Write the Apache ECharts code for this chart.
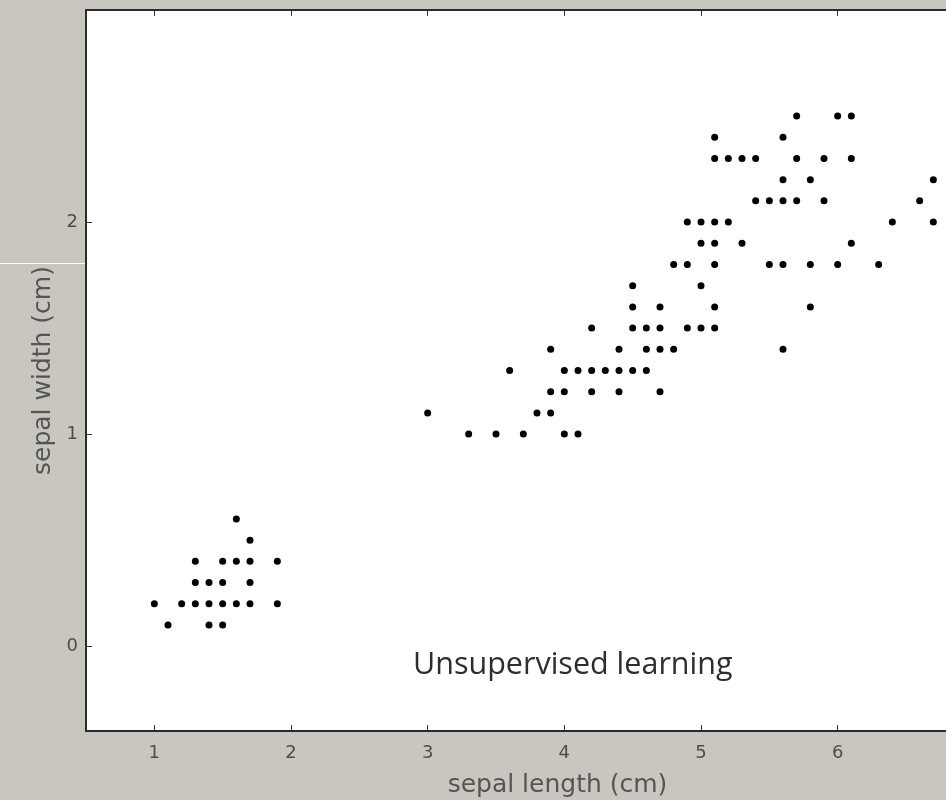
<!DOCTYPE html>
<html>
<head>
<meta charset="utf-8">
<script src="https://cdn.jsdelivr.net/npm/echarts@6/dist/echarts.min.js"></script>
<style>
  html, body { margin: 0; padding: 0; background: #c9c6bf; }
  #chart { width: 946px; height: 800px; }
</style>
</head>
<body>
<div id="chart"></div>
<script>
// 坐标轴刻度
const xTicks = [1, 2, 3, 4, 5, 6, 7];
const yTicks = [0, 1, 2];

// 每一行 y 值对应的 x 值（从图上读出，重复点只保留一个）
const rowY = [0.1, 0.2, 0.3, 0.4, 0.5, 0.6,
  1.0, 1.1, 1.2, 1.3, 1.4, 1.5, 1.6, 1.7, 1.8, 1.9, 2.0, 2.1, 2.2, 2.3, 2.4, 2.5];
const rowX = [
  [1.1, 1.4, 1.5],
  [1.0, 1.2, 1.3, 1.4, 1.5, 1.6, 1.7, 1.9],
  [1.3, 1.4, 1.5, 1.7],
  [1.3, 1.5, 1.6, 1.7, 1.9],
  [1.7],
  [1.6],
  [3.3, 3.5, 3.7, 4.0, 4.1],
  [3.0, 3.8, 3.9],
  [3.9, 4.0, 4.2, 4.4, 4.7],
  [3.6, 4.0, 4.1, 4.2, 4.3, 4.4, 4.5, 4.6],
  [3.9, 4.4, 4.6, 4.7, 4.8, 5.6],
  [4.2, 4.5, 4.6, 4.7, 4.9, 5.0, 5.1],
  [4.5, 4.7, 5.1, 5.8],
  [4.5, 5.0],
  [4.8, 4.9, 5.1, 5.5, 5.6, 5.8, 6.0, 6.3],
  [5.0, 5.1, 5.3, 6.1],
  [4.9, 5.0, 5.1, 5.2, 6.4, 6.7],
  [5.4, 5.5, 5.6, 5.7, 5.9, 6.6],
  [5.6, 5.8, 6.7],
  [5.1, 5.2, 5.3, 5.4, 5.7, 5.9, 6.1],
  [5.1, 5.6],
  [5.7, 6.0, 6.1]
];

const points = [];
rowY.forEach((y, i) => {
  rowX[i].forEach(x => points.push([x, y]));
});

const chart = echarts.init(document.getElementById('chart'));

const lineStyle = { show: true, onZero: false, lineStyle: { color: '#2b2b2b', width: 2 } };
const tickStyle = vals => ({
  show: true, inside: true, length: 6, customValues: vals,
  lineStyle: { color: '#333', width: 1 }
});
const labelStyle = (vals, margin) => ({
  color: '#4d4d4d', fontSize: 18, fontFamily: 'DejaVu Sans', margin: margin, customValues: vals
});
const nameStyle = { color: '#555', fontSize: 25, fontFamily: 'DejaVu Sans' };

const option = {
  backgroundColor: '#c9c6bf',
  animation: false,
  grid: {
    left: 86,
    top: 10,
    width: 943,
    height: 721,
    outerBoundsMode: 'none',
    containLabel: false,
    show: true,
    backgroundColor: '#ffffff',
    borderWidth: 0
  },
  xAxis: [
    {
      type: 'value',
      min: 0.5,
      max: 7.4,
      position: 'bottom',
      name: 'sepal length (cm)',
      nameLocation: 'middle',
      nameGap: 42,
      nameTextStyle: nameStyle,
      axisLine: lineStyle,
      axisTick: tickStyle(xTicks),
      axisLabel: labelStyle(xTicks, 13),
      splitLine: { show: false }
    },
    {
      type: 'value',
      min: 0.5,
      max: 7.4,
      position: 'top',
      axisLine: lineStyle,
      axisTick: tickStyle(xTicks),
      axisLabel: { show: false },
      splitLine: { show: false }
    }
  ],
  yAxis: {
    type: 'value',
    min: -0.4,
    max: 3.0,
    name: 'sepal width (cm)',
    nameLocation: 'middle',
    nameGap: 30,
    nameRotate: 90,
    nameTextStyle: nameStyle,
    axisLine: lineStyle,
    axisTick: tickStyle(yTicks),
    axisLabel: labelStyle(yTicks, 8),
    splitLine: { show: false }
  },
  series: [
    {
      type: 'scatter',
      data: points,
      symbolSize: 7,
      itemStyle: { color: '#000000', opacity: 1 },
      clip: false
    }
  ],
  graphic: [
    {
      type: 'text',
      left: 413,
      top: 650,
      style: {
        text: 'Unsupervised learning',
        fill: '#2e2e2e',
        font: '30.5px "Open Sans"'
      }
    },
    {
      type: 'line',
      shape: { x1: 0, y1: 263.5, x2: 86, y2: 263.5 },
      style: { stroke: '#ffffff', lineWidth: 1 }
    }
  ]
};

chart.setOption(option);
</script>
</body>
</html>
